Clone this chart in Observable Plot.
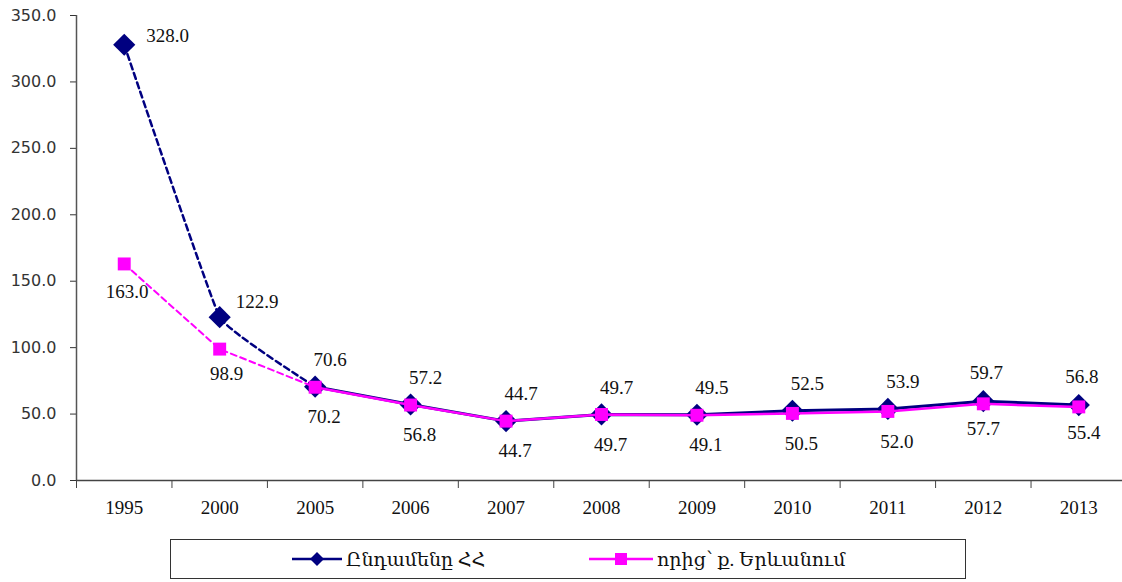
<!DOCTYPE html>
<html>
<head>
<meta charset="utf-8">
<script src="https://cdn.jsdelivr.net/npm/d3@7"></script>
<script src="https://cdn.jsdelivr.net/npm/@observablehq/plot@0.6"></script>
<style>
  html, body { margin: 0; padding: 0; background: #fff; }
  #wrap { position: relative; width: 1122px; height: 582px; overflow: hidden; }
  #legend { position: absolute; left: 170px; top: 539px; width: 796px; height: 40px;
    border: 1px solid #333; box-sizing: border-box; font-family: "Liberation Serif", "DejaVu Serif", serif;
    font-size: 19px; color: #111; }
  .item { position: absolute; top: 0; height: 38px; display: flex; align-items: center; }
  .item svg { margin-right: 4px; }
</style>
</head>
<body>
<div id="wrap">
  <div id="chart"></div>
  <div id="legend"></div>
</div>
<script>
const years = ["1995", "2000", "2005", "2006", "2007", "2008", "2009", "2010", "2011", "2012", "2013"];
const totalArmenia = [328.0, 122.9, 70.6, 57.2, 44.7, 49.7, 49.5, 52.5, 53.9, 59.7, 56.8];
const yerevan = [163.0, 98.9, 70.2, 56.8, 44.7, 49.7, 49.1, 50.5, 52.0, 57.7, 55.4];
const yTicks = [0, 50, 100, 150, 200, 250, 300, 350];
const seriesNames = ["Ընդամենը ՀՀ", "որից՝ ք. Երևանում"];

const NAVY = "#000080";
const MAG = "#FF00FF";
const SERIF = "Liberation Serif, DejaVu Serif, serif";

const rows = years.map((y, i) => ({i, year: y, total: totalArmenia[i], yer: yerevan[i]}));
const X = d => d.i + 0.5;
const sel = (a, b) => rows.filter(d => d.i >= a && d.i <= b);

function navyLabel(data, dx, dy, anchor) {
  return Plot.text(data, {x: X, y: "total", text: d => d.total.toFixed(1), dx, dy,
    textAnchor: anchor, fontFamily: SERIF, fontSize: 19, fill: "#111"});
}
function magLabel(data, dx, dy) {
  return Plot.text(data, {x: X, y: "yer", text: d => d.yer.toFixed(1), dx, dy,
    fontFamily: SERIF, fontSize: 19, fill: "#111"});
}

const chart = Plot.plot({
  width: 1122,
  height: 525,
  marginTop: 15,
  marginBottom: 45,
  marginLeft: 76,
  marginRight: 0,
  style: {background: "#fff", overflow: "visible"},
  x: {type: "linear", domain: [0, years.length], range: [76, 1126], axis: null},
  y: {domain: [0, 350], axis: null},
  marks: [
    Plot.axisY({ticks: yTicks, tickFormat: d => d.toFixed(1), tickSize: 6, tickPadding: 14,
      fontFamily: "DejaVu Sans", fontSize: 16, color: "#333", label: null}),
    Plot.axisX({ticks: years.map((_, i) => i + 0.5), tickFormat: v => years[Math.round(v - 0.5)],
      tickSize: 0, tickPadding: 20, fontFamily: SERIF, fontSize: 19, color: "#111", label: null}),
    Plot.axisX({ticks: d3.range(0, years.length + 1), tickFormat: () => "", tickSize: 8,
      color: "#444", label: null}),
    Plot.ruleX([0], {stroke: "#555", strokeWidth: 1.5}),
    Plot.ruleY([0], {stroke: "#444", strokeWidth: 1.5}),
    // Total (navy)
    Plot.line(sel(0, 2), {x: X, y: "total", stroke: NAVY, strokeWidth: 2.5, strokeDasharray: "6,4", curve: "cardinal", tension: 0.75}),
    Plot.line(sel(2, 10), {x: X, y: "total", stroke: NAVY, strokeWidth: 3}),
    Plot.dot(rows, {x: X, y: "total", symbol: "diamond2", r: 10, fill: NAVY, stroke: "none"}),
    // Yerevan (magenta)
    Plot.line(sel(0, 2), {x: X, y: "yer", stroke: MAG, strokeWidth: 2, strokeDasharray: "6,4"}),
    Plot.line(sel(2, 10), {x: X, y: "yer", stroke: MAG, strokeWidth: 2.5}),
    Plot.dot(rows, {x: X, y: "yer", symbol: "square", r: 7.3, fill: MAG, stroke: "none"}),
    // labels
    navyLabel(sel(0, 0), 22, -9, "start"),
    navyLabel(sel(1, 1), 16, -15, "start"),
    navyLabel(sel(2, 8), 15, -27, "middle"),
    navyLabel(sel(9, 10), 3, -28, "middle"),
    magLabel(sel(0, 0), 3, 28),
    magLabel(sel(1, 1), 7, 25),
    magLabel(sel(2, 8), 9, 30),
    magLabel(sel(9, 9), 0, 25),
    magLabel(sel(10, 10), 5, 26)
  ]
});
document.getElementById("chart").appendChild(chart);

const legend = document.getElementById("legend");
legend.innerHTML = `
  <div class="item" style="left:121px">
    <svg width="50" height="20"><line x1="0" y1="10" x2="50" y2="10" stroke="${NAVY}" stroke-width="2.5"/>
      <path d="M25,3 L32,10 L25,17 L18,10 Z" fill="${NAVY}"/></svg>
    <span>${seriesNames[0]}</span>
  </div>
  <div class="item" style="left:418px">
    <svg width="64" height="20"><line x1="0" y1="10" x2="64" y2="10" stroke="${MAG}" stroke-width="2.5"/>
      <rect x="26" y="4" width="12" height="12" fill="${MAG}"/></svg>
    <span>${seriesNames[1]}</span>
  </div>`;
</script>
</body>
</html>
